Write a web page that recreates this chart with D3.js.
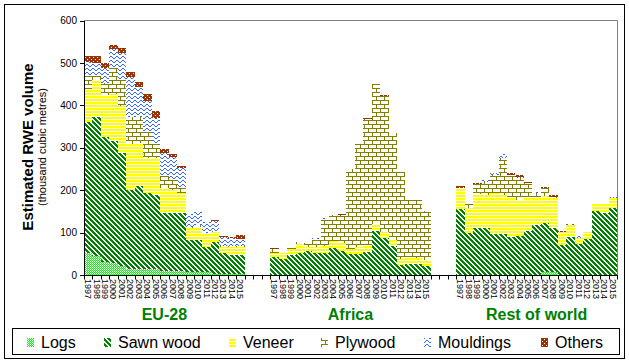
<!DOCTYPE html>
<html><head><meta charset="utf-8">
<script src="https://cdn.jsdelivr.net/npm/d3@7"></script>
<style>body{margin:0;background:#fff}svg{display:block;font-family:Arial,"Liberation Sans",sans-serif}</style>
</head><body><svg id="c" width="629" height="362"></svg>
<script>
const years = ["1997","1998","1999","2000","2001","2002","2003","2004","2005","2006","2007","2008","2009","2010","2011","2012","2013","2014","2015"];
const groups = ["EU-28","Africa","Rest of world"];
const seriesNames = ["Logs","Sawn wood","Veneer","Plywood","Mouldings","Others"];
const yTicks = [0,100,200,300,400,500,600];

const euLogs      = [51,45,30,29,21,15,15,14,14,10,9,9,7,7,6,3,3,3,3];
const euSawn      = [310,327,296,288,266,185,195,179,175,137,138,138,75,75,61,75,49,44,44];
const euVeneer    = [77,88,98,109,111,110,102,82,86,57,53,46,28,32,31,24,15,20,20];
const euPlywood   = [31,10,28,63,62,63,61,63,35,29,24,11,2,4,1,1,1,1,2];
const euMouldings = [34,30,37,43,63,94,71,73,61,54,55,49,31,33,25,25,22,20,16];
const euOthers    = [14,16,10,10,11,12,12,16,16,10,6,4,1,0,2,1,3,2,9];

const afLogs      = [0,0,0,0,0,0,0,0,0,0,0,0,0,0,0,0,0,0,0];
const afSawn      = [43,38,47,51,57,53,53,63,57,50,50,54,104,87,69,24,25,25,22];
const afVeneer    = [10,13,14,22,10,14,16,16,18,11,17,17,16,15,14,13,18,16,13];
const afPlywood   = [8,2,3,4,8,16,61,62,66,190,241,296,330,320,251,207,134,136,116];
const afMouldings = [0,0,0,0,0,5,4,0,0,0,0,0,0,0,0,0,0,0,0];
const afOthers    = [2,0,0,0,1,0,0,0,2,0,0,2,0,2,0,0,0,0,0];

const rwLogs      = [0,0,0,0,0,0,0,0,0,0,8,8,0,0,0,0,0,0,0];
const rwSawn      = [155,100,111,110,96,96,90,93,104,118,114,102,71,90,72,85,151,145,159];
const rwVeneer    = [49,57,81,79,97,93,95,84,81,67,65,71,30,28,16,16,18,24,23];
const rwPlywood   = [0,10,23,31,43,86,49,51,31,8,17,4,0,1,0,0,1,0,0];
const rwMouldings = [0,0,0,3,5,10,2,4,0,3,0,0,0,3,3,0,0,0,2];
const rwOthers    = [6,0,2,0,0,0,4,3,3,0,4,3,3,0,0,0,0,0,0];

const groupSeries = [
  [euLogs,euSawn,euVeneer,euPlywood,euMouldings,euOthers],
  [afLogs,afSawn,afVeneer,afPlywood,afMouldings,afOthers],
  [rwLogs,rwSawn,rwVeneer,rwPlywood,rwMouldings,rwOthers]
];

const slots = [];
const rows = [];
groups.forEach((g,gi)=>{
  years.forEach((yr,i)=>{
    const key = g+"|"+yr;
    slots.push(key);
    const r = {key, year: yr, group: g};
    seriesNames.forEach((s,si)=> r[s] = groupSeries[gi][si][i]);
    rows.push(r);
  });
  if (gi < groups.length-1) for (let k=0;k<3;k++) slots.push("gap"+gi+"_"+k);
});

const svg = d3.select("#c");
const L = 84, R = 617, T = 20.5, B = 275;
const x = d3.scaleBand().domain(slots).range([L,R]).padding(0);
const y = d3.scaleLinear().domain([0,600]).range([B,T]);

const defs = svg.append("defs");
function pix(id,w,h,bg,fg,pixels){
  const p = defs.append("pattern").attr("id",id).attr("patternUnits","userSpaceOnUse").attr("width",w).attr("height",h);
  p.append("rect").attr("width",w).attr("height",h).attr("fill",bg);
  pixels.forEach(([px,py])=>p.append("rect").attr("x",px).attr("y",py).attr("width",1).attr("height",1).attr("fill",fg).attr("shape-rendering","crispEdges"));
}
pix("pLogs",2,2,"#fff","#00ff00",[[0,0],[1,1]]);
const sw=[]; for(let yy=0;yy<5;yy++) for(let k=0;k<3;k++) sw.push([(yy+k)%5,yy]);
pix("pSawn",5,5,"#fff","#008000",sw);
const vn=[]; for(let xx=0;xx<4;xx++){vn.push([xx,0]);vn.push([xx,1]);}
pix("pVeneer",4,3,"#fff","#ffff00",vn);
const pw=[]; for(let xx=0;xx<8;xx++){pw.push([xx,0]);pw.push([xx,4]);}
[1,2,3].forEach(yy=>pw.push([0,yy])); [5,6,7].forEach(yy=>pw.push([4,yy]));
pix("pPlywood",8,8,"#fff","#808000",pw);
pix("pMouldings",6,4,"#fff","#3366ff",[[0,2],[1,1],[2,0],[3,0],[4,1],[5,2]]);
pix("pOthers",4,4,"#993300","#ffffff",[[1,1],[3,3]]);
const fills = ["url(#pLogs)","url(#pSawn)","url(#pVeneer)","url(#pPlywood)","url(#pMouldings)","url(#pOthers)"];

svg.append("rect").attr("x",4.5).attr("y",4.5).attr("width",620).attr("height",354)
  .attr("fill","none").attr("stroke","#000").attr("stroke-width",1);

svg.append("path").attr("d",`M${L},${T}H${R+0.5}V${B}`).attr("fill","none").attr("stroke","#808080").attr("stroke-width",1);

const stack = d3.stack().keys(seriesNames);
const layers = stack(rows);
svg.append("g").selectAll("g").data(layers).join("g")
  .attr("fill",(d,i)=>fills[i])
  .selectAll("rect").data(d=>d.filter(p=>p[1]-p[0]>0)).join("rect")
  .attr("shape-rendering","crispEdges")
  .attr("x",d=>x(d.data.key))
  .attr("width",x.bandwidth())
  .attr("y",d=>y(d[1]))
  .attr("height",d=>y(d[0])-y(d[1]));

const yAxis = svg.append("g").attr("transform",`translate(${L},0)`)
  .call(d3.axisLeft(y).tickValues(yTicks).tickSize(4).tickSizeOuter(0).tickPadding(3));
yAxis.select(".domain").attr("stroke","#000").attr("shape-rendering","crispEdges");
yAxis.selectAll(".tick line").attr("stroke","#000").attr("shape-rendering","crispEdges");
yAxis.selectAll("text").attr("font-size",10).attr("font-family","Arial").attr("fill","#000");

const xg = svg.append("g");
xg.append("line").attr("x1",L).attr("x2",R).attr("y1",B+0.5).attr("y2",B+0.5).attr("stroke","#000");
const bounds = slots.map(s=>x(s)).concat([R]);
xg.selectAll("line.t").data(bounds).join("line").attr("class","t")
  .attr("x1",d=>Math.round(d)+0.5).attr("x2",d=>Math.round(d)+0.5).attr("y1",B).attr("y2",B+4.5)
  .attr("stroke","#000");
xg.selectAll("text").data(rows).join("text")
  .attr("transform",d=>`translate(${x(d.key)+x.bandwidth()/2},279) rotate(90)`)
  .attr("dy","0.35em").attr("font-size",9).attr("fill","#000").text(d=>d.year);

svg.append("g").selectAll("text").data(groups).join("text")
  .attr("x",g=>(x(g+"|"+years[0])+x(g+"|"+years[years.length-1])+x.bandwidth())/2)
  .attr("y",320).attr("text-anchor","middle").attr("font-weight","bold").attr("font-size",16)
  .attr("fill","#008000").text(g=>g);

svg.append("text").attr("transform","translate(33,147) rotate(-90)").attr("text-anchor","middle")
  .attr("font-weight","bold").attr("font-size",15).text("Estimated RWE volume");
svg.append("text").attr("transform","translate(46,147) rotate(-90)").attr("text-anchor","middle")
  .attr("font-size",11).text("(thousand cubic metres)");

svg.append("rect").attr("x",12.5).attr("y",328.5).attr("width",607).attr("height",26)
  .attr("fill","none").attr("stroke","#000");
const legX = [27,104,229,321,424,541];
const lg = svg.append("g").selectAll("g").data(seriesNames).join("g")
  .attr("transform",(d,i)=>`translate(${legX[i]},0)`);
lg.append("rect").attr("x",0).attr("y",338).attr("width",7).attr("height",9).attr("fill",(d,i)=>fills[i]).attr("shape-rendering","crispEdges");
lg.append("text").attr("x",14).attr("y",348).attr("font-size",16).attr("fill","#000").text(d=>d);
</script></body></html>
